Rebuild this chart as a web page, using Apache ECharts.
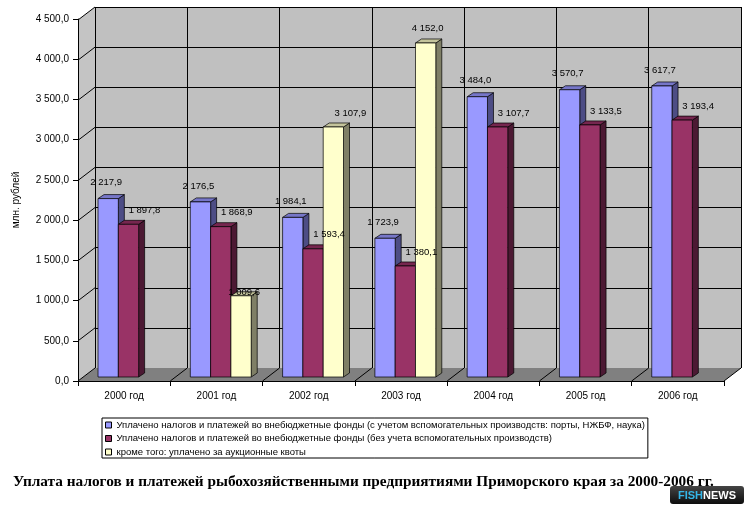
<!DOCTYPE html>
<html>
<head>
<meta charset="utf-8">
<script src="https://cdn.jsdelivr.net/npm/echarts@6/dist/echarts.min.js"></script>
<style>html,body{margin:0;padding:0;background:#fff}#c{width:754px;height:515px}</style>
</head>
<body>
<div id="c"></div>
<script>
const categories = ['2000 год','2001 год','2002 год','2003 год','2004 год','2005 год','2006 год'];
const seriesNames = [
  'Уплачено налогов и платежей во внебюджетные фонды (с учетом вспомогательных производств: порты, НЖБФ, наука)',
  'Уплачено налогов и платежей во внебюджетные фонды (без учета вспомогательных производств)',
  'кроме того: уплачено за аукционные квоты'
];
const withAux    = [2217.9, 2176.5, 1984.1, 1723.9, 3484.0, 3570.7, 3617.7];
const withoutAux = [1897.8, 1868.9, 1593.4, 1380.1, 3107.7, 3133.5, 3193.4];
const auction    = [null, 1009.6, 3107.9, 4152.0, null, null, null];
const yMin = 0, yMax = 4500, yStep = 500;
const titleText = 'Уплата налогов и платежей рыбохозяйственными предприятиями Приморского края за 2000-2006 гг.';

// styles
const FONT = "'Liberation Sans', Arial, sans-serif";
const WALL_DX = 17, WALL_DY = 13;   // 3D wall depth
const BAR_DX = 6, BAR_DY = 4, LIFT = 4;
const palettes = [
  {front:'#9999FF', top:'#7676C8', side:'#4D4D85'},
  {front:'#993366', top:'#76264F', side:'#4C1933'},
  {front:'#FFFFCC', top:'#C4C49C', side:'#7F7F66'}
];
const labelOffsets = [[-2,-16],[16,-14],[17,-14]];
const labelOverride = {2: {1:[3,-3], 3:[2,-15]}};

function fmt(v){
  const s = Math.abs(v).toFixed(1).split('.');
  const int = s[0].replace(/\B(?=(\d{3})+(?!\d))/g, ' ');
  return (v<0?'-':'') + int + ',' + s[1];
}

function barRenderer(si){
  const pal = palettes[si];
  return function(params, api){
    const c = api.value(0), v = api.value(1);
    const cw = api.size([1,0])[0];
    const ctr = api.coord([c, v]);
    const base = api.coord([c, 0]);
    const bw = cw*0.22;
    const x0 = ctr[0] - cw/2 + cw*0.217 + si*bw;
    const x1 = x0 + bw;
    const yt = ctr[1] - LIFT, yb = base[1] - LIFT;
    const st = {stroke:'#000', lineWidth:0.7};
    let off = labelOffsets[si];
    if (labelOverride[si] && labelOverride[si][c]) off = labelOverride[si][c];
    return {type:'group', children:[
      {type:'polygon', shape:{points:[[x1,yt],[x1+BAR_DX,yt-BAR_DY],[x1+BAR_DX,yb-BAR_DY],[x1,yb]]}, style:Object.assign({fill:pal.side}, st)},
      {type:'polygon', shape:{points:[[x0,yt],[x1,yt],[x1+BAR_DX,yt-BAR_DY],[x0+BAR_DX,yt-BAR_DY]]}, style:Object.assign({fill:pal.top}, st)},
      {type:'rect', shape:{x:x0, y:yt, width:bw, height:yb-yt}, style:Object.assign({fill:pal.front}, st)},
      {type:'text', x:(x0+x1)/2+off[0], y:yt+off[1], z2:100,
        style:{text:fmt(v), fill:'#000', fontSize:9.5, fontFamily:FONT, align:'center', verticalAlign:'middle'}}
    ]};
  };
}

function wallRenderer(params, api){
  const cw = api.size([1,0])[0];
  const c0 = api.coord([0, yMin]);
  const leftX = c0[0] - cw/2;
  const rightX = leftX + cw*categories.length;
  const y0 = c0[1];
  const yTop = api.coord([0, yMax])[1];
  const children = [];
  children.push({type:'polygon', shape:{points:[[leftX,yTop],[leftX,y0],[leftX-WALL_DX,y0+WALL_DY],[leftX-WALL_DX,yTop+WALL_DY]]}, style:{fill:'#C4C4C4'}});
  children.push({type:'polygon', shape:{points:[[leftX,y0],[rightX,y0],[rightX-WALL_DX,y0+WALL_DY],[leftX-WALL_DX,y0+WALL_DY]]}, style:{fill:'#808080'}});
  for (let t = yMin + yStep; t <= yMax; t += yStep){
    const y = api.coord([0, t])[1];
    children.push({type:'line', shape:{x1:leftX-WALL_DX, y1:y+WALL_DY, x2:leftX, y2:y}, style:{stroke:'#000', lineWidth:1}});
  }
  for (let k = 0; k <= categories.length; k++){
    const x = leftX + k*cw;
    children.push({type:'line', shape:{x1:x-WALL_DX, y1:y0+WALL_DY, x2:x, y2:y0}, style:{stroke:'#000', lineWidth:1}});
  }
  return {type:'group', children};
}

const chart = echarts.init(document.getElementById('c'), null, {renderer:'canvas'});
const barData = [withAux, withoutAux, auction].map(arr => arr.map((v,i)=> v==null?null:[i,v]).filter(d=>d));

chart.setOption({
  animation:false,
  backgroundColor:'#fff',
  title:{text:titleText, left:13, top:475, padding:0,
    textStyle:{fontFamily:"'Liberation Serif', 'Times New Roman', serif", fontWeight:'bold', fontSize:15.3, color:'#000'}},
  legend:{
    data:seriesNames, orient:'vertical', left:102, top:418,
    borderColor:'#000', borderWidth:1, padding:[2,3,1,3], itemGap:3.5,
    itemWidth:6, itemHeight:6, icon:'rect',
    itemStyle:{borderColor:'#000', borderWidth:1},
    textStyle:{fontFamily:FONT, fontSize:9.5, color:'#000', lineHeight:10}
  },
  grid:[
    {left:78, right:30, top:19, bottom:134},
    {left:95, right:13, top:7, bottom:147, show:true, backgroundColor:'#C0C0C0', borderWidth:0}
  ],
  xAxis:[
    {type:'category', gridIndex:0, data:categories, z:5,
      axisLine:{lineStyle:{color:'#000', width:1}},
      axisTick:{show:true, length:5, lineStyle:{color:'#000'}},
      axisLabel:{color:'#000', fontSize:10, fontFamily:FONT, margin:10},
      splitLine:{show:false}},
    {type:'category', gridIndex:1, data:categories,
      axisLine:{show:false}, axisTick:{show:false}, axisLabel:{show:false},
      splitLine:{show:true, lineStyle:{color:'#000', width:1}}}
  ],
  yAxis:[
    {type:'value', gridIndex:0, min:yMin, max:yMax, interval:yStep, z:5,
      name:'млн. рублей', nameLocation:'middle', nameGap:57, nameRotate:90,
      nameTextStyle:{color:'#000', fontSize:10, fontFamily:FONT},
      axisLine:{show:true, lineStyle:{color:'#000', width:1}},
      axisTick:{show:true, length:5, lineStyle:{color:'#000'}},
      axisLabel:{color:'#000', fontSize:10, fontFamily:FONT, margin:9, formatter:v=>fmt(v)},
      splitLine:{show:false}},
    {type:'value', gridIndex:1, min:yMin, max:yMax, interval:yStep,
      axisLine:{show:false}, axisTick:{show:false}, axisLabel:{show:false},
      splitLine:{show:true, lineStyle:{color:'#000', width:1}}}
  ],
  series:[
    {type:'custom', name:'walls', xAxisIndex:1, yAxisIndex:1, data:[[0,0]], renderItem:wallRenderer, z:1, silent:true, clip:false},
    ...seriesNames.map((n,si)=>({
      type:'custom', name:n, xAxisIndex:0, yAxisIndex:0, data:barData[si],
      renderItem:barRenderer(si), z:3, clip:false,
      itemStyle:{color:palettes[si].front, borderColor:'#000', borderWidth:1}
    }))
  ],
  graphic:[
    {type:'group', left:670, top:486, children:[
      {type:'rect', shape:{x:0, y:0, width:74, height:18, r:3},
        style:{fill:new echarts.graphic.LinearGradient(0,0,0,1,[{offset:0,color:'#444'},{offset:1,color:'#0d0d0d'}])}},
      {type:'text', x:37, y:9.5, style:{text:'{a|FISH}{b|NEWS}', align:'center', verticalAlign:'middle',
        rich:{a:{fill:'#35B7E8', fontSize:11, fontWeight:'bold', fontFamily:FONT},
              b:{fill:'#fff', fontSize:11, fontWeight:'bold', fontFamily:FONT}}}}
    ]}
  ]
});
</script>
</body>
</html>
